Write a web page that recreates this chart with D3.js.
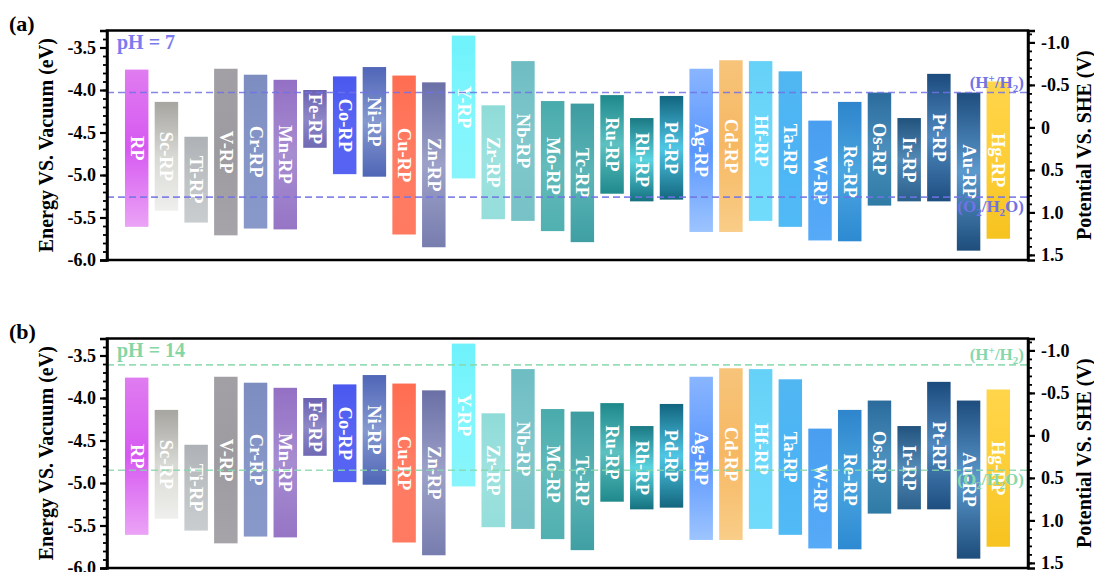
<!DOCTYPE html>
<html>
<head>
<meta charset="utf-8">
<script src="https://cdn.jsdelivr.net/npm/d3@7"></script>
<style>
  body { margin: 0; background: #fff; }
  svg { display: block; }
  text { font-family: "Liberation Serif", "Times New Roman", serif; font-weight: bold; }
</style>
</head>
<body>
<svg id="chart" width="1094" height="572"></svg>
<script>
// Band-edge positions of the RP-type structures (eV vs. vacuum)
const materials = ["RP", "Sc-RP", "Ti-RP", "V-RP", "Cr-RP", "Mn-RP", "Fe-RP", "Co-RP", "Ni-RP", "Cu-RP",
  "Zn-RP", "Y-RP", "Zr-RP", "Nb-RP", "Mo-RP", "Tc-RP", "Ru-RP", "Rh-RP", "Pd-RP", "Ag-RP",
  "Cd-RP", "Hf-RP", "Ta-RP", "W-RP", "Re-RP", "Os-RP", "Ir-RP", "Pt-RP", "Au-RP", "Hg-RP"];
const cbEdge = [-3.76, -4.14, -4.55, -3.75, -3.82, -3.88, -4.00, -3.84, -3.73, -3.83,
  -3.91, -3.36, -4.18, -3.66, -4.13, -4.16, -4.06, -4.33, -4.07, -3.75,
  -3.65, -3.66, -3.78, -4.36, -4.14, -4.03, -4.33, -3.81, -4.03, -3.90];
const vbEdge = [-5.61, -5.42, -5.56, -5.71, -5.63, -5.64, -4.68, -4.99, -5.02, -5.70,
  -5.85, -5.04, -5.52, -5.54, -5.66, -5.79, -5.22, -5.31, -5.29, -5.67,
  -5.67, -5.54, -5.61, -5.77, -5.78, -5.36, -5.31, -5.31, -5.89, -5.75];

// Panels and water redox levels (V vs. SHE)
const panelTags = ["(a)", "(b)"];
const pHLabels = ["pH = 7", "pH = 14"];
const hRedox = [-0.41, -0.83];
const oRedox = [0.82, 0.41];

// Axis ticks
const energyTicks = [-6.0, -5.5, -5.0, -4.5, -4.0, -3.5];
const potentialTicks = [-1.0, -0.5, 0, 0.5, 1.0, 1.5];
const energyDomain = [-6.0, -3.3];
const vacuumToSHE = -4.44;   // E(vac) = -4.44 - U(SHE)

// Bar gradients: top, middle, bottom
const barColors = [
  ["#e07cf0", "#d659f1", "#eba3f6"], ["#a6a5a0", "#d8d8d4", "#efefed"], ["#aeb2b6", "#bec2c5", "#c9cdd0"],
  ["#a29fa5", "#9d9aa0", "#a6a3a9"], ["#7d8dc0", "#8595c7", "#8898c9"], ["#9470c4", "#a68cd1", "#9675c5"],
  ["#6a62b0", "#8d87c7", "#7069b4"], ["#4a58ee", "#5865f4", "#5662f2"], ["#5066b8", "#8598d0", "#4f66b6"],
  ["#ff6d51", "#ff7c64", "#ff7a60"], ["#6a70a6", "#9da1c9", "#777dae"], ["#6ef2fb", "#80f6fd", "#88f4fb"],
  ["#8fdbd8", "#9ee2df", "#95dedb"], ["#6ebdc3", "#80c8cc", "#77c2c6"], ["#49abac", "#63bbba", "#51b0b0"],
  ["#3d9ca1", "#5bb5b7", "#3f9fa3"], ["#1e898b", "#5dc0c1", "#1f898b"], ["#1b7983", "#5ad4e0", "#15717f"],
  ["#11657f", "#50c6e4", "#13677e"], ["#8ab5ff", "#5a97fd", "#9dc4ff"], ["#f7c47a", "#f6b862", "#f9cd88"],
  ["#66d1f6", "#6cd8fa", "#71dbfb"], ["#50b7f2", "#4cb4f4", "#51bbf6"], ["#4a9ef0", "#4fa5f4", "#56aaf8"],
  ["#2e85cc", "#4ba6e0", "#2d8ad2"], ["#2a6b9c", "#4a8fbc", "#2f7ba6"], ["#21537d", "#5289b5", "#2a5f8a"],
  ["#1c4b7d", "#4f89bf", "#1e4e80"], ["#1e4d7e", "#5b99cd", "#1d4d7b"], ["#ffd54a", "#fdce38", "#f6c31f"]
];
const redoxColors = ["#7272e6", "#86d8aa"];
const pHColors = ["#7b7bef", "#84d6a4"];

const svg = d3.select("#chart");
const plotLeft = 107, plotRight = 1028, plotTop = 30.5, plotBottom = 260, panelShift = 308;

const x = d3.scalePoint().domain(materials).range([plotLeft, plotRight]).padding(1);
const barW = x.step() * 0.79;
const yE = d3.scaleLinear().domain(energyDomain).range([plotBottom, plotTop]);
const yU = d3.scaleLinear()
  .domain([vacuumToSHE - energyDomain[0], vacuumToSHE - energyDomain[1]])
  .range([plotBottom, plotTop]);

// gradients
const defs = svg.append("defs");
materials.forEach((m, i) => {
  const g = defs.append("linearGradient").attr("id", "bar" + i)
    .attr("x1", 0).attr("y1", 0).attr("x2", 0).attr("y2", 1);
  barColors[i].forEach((c, k) => g.append("stop").attr("offset", k / 2).attr("stop-color", c));
});

const rows = materials.map((m, i) => ({ name: m, cb: cbEdge[i], vb: vbEdge[i], i }));
const fmt1 = d => d.toFixed(1);
const fmtU = d => (d === 0 ? "0" : d.toFixed(1));

panelTags.forEach((tag, p) => {
  const g = svg.append("g").attr("transform", `translate(0,${p * panelShift})`);

  g.append("text").attr("x", 9).attr("y", 31).attr("font-size", 22).attr("fill", "#000").text(tag);

  // bars
  g.append("g").selectAll("rect").data(rows).join("rect")
    .attr("x", d => x(d.name) - barW / 2)
    .attr("y", d => yE(d.cb))
    .attr("width", barW)
    .attr("height", d => yE(d.vb) - yE(d.cb))
    .attr("fill", d => `url(#bar${d.i})`);

  // bar labels
  g.append("g").selectAll("text").data(rows).join("text")
    .attr("transform", d => `translate(${x(d.name)},${(yE(d.cb) + yE(d.vb)) / 2}) rotate(90)`)
    .attr("text-anchor", "middle").attr("dominant-baseline", "central")
    .attr("font-size", 18.5).attr("fill", "#fff")
    .text(d => d.name);

  // water redox levels
  const lines = [hRedox[p], oRedox[p]];
  g.append("g").selectAll("line").data(lines).join("line")
    .attr("x1", plotLeft).attr("x2", plotRight)
    .attr("y1", d => yU(d)).attr("y2", d => yU(d))
    .attr("stroke", redoxColors[p]).attr("stroke-width", 1.6)
    .attr("stroke-dasharray", "7,4").attr("opacity", 0.85);

  const hT = g.append("text").attr("x", plotRight - 4).attr("y", yU(hRedox[p]) - 5)
    .attr("text-anchor", "end").attr("font-size", 17).attr("fill", redoxColors[p]);
  hT.append("tspan").text("(H");
  hT.append("tspan").attr("font-size", 11).attr("dy", -6).text("+");
  hT.append("tspan").attr("dy", 6).text("/H");
  hT.append("tspan").attr("font-size", 11).attr("dy", 4).text("2");
  hT.append("tspan").attr("dy", -4).text(")");

  const oT = g.append("text").attr("x", plotRight - 4).attr("y", yU(oRedox[p]) + 15)
    .attr("text-anchor", "end").attr("font-size", 17).attr("fill", redoxColors[p]);
  oT.append("tspan").text("(O");
  oT.append("tspan").attr("font-size", 11).attr("dy", 4).text("2");
  oT.append("tspan").attr("dy", -4).text("/H");
  oT.append("tspan").attr("font-size", 11).attr("dy", 4).text("2");
  oT.append("tspan").attr("dy", -4).text("O)");

  g.append("text").attr("x", 117).attr("y", 49).attr("font-size", 20)
    .attr("fill", pHColors[p]).text(pHLabels[p]);

  // frame
  g.append("rect").attr("x", plotLeft).attr("y", plotTop)
    .attr("width", plotRight - plotLeft).attr("height", plotBottom - plotTop)
    .attr("fill", "none").attr("stroke", "#000").attr("stroke-width", 2.5);

  // left axis: energy vs vacuum
  const minorE = d3.range(-60, -32).map(v => v / 10);
  g.append("g").attr("transform", `translate(${plotLeft},0)`)
    .call(d3.axisLeft(yE).tickValues(minorE).tickSize(4).tickFormat(""))
    .call(a => a.select(".domain").remove())
    .call(a => a.selectAll("line").attr("stroke-width", 1.8));
  g.append("g").attr("transform", `translate(${plotLeft},0)`)
    .call(d3.axisLeft(yE).tickValues(energyTicks).tickSize(7).tickPadding(4).tickFormat(fmt1))
    .call(a => a.select(".domain").attr("stroke-width", 2.5))
    .call(a => a.selectAll("line").attr("stroke-width", 2.2))
    .call(a => a.selectAll("text").attr("font-size", 18).attr("fill", "#000")
      .attr("font-family", "Liberation Serif, serif").attr("font-weight", "bold"));

  // right axis: potential vs SHE
  const minorU = d3.range(-11, 16).map(v => v / 10);
  g.append("g").attr("transform", `translate(${plotRight},0)`)
    .call(d3.axisRight(yU).tickValues(minorU).tickSize(4).tickFormat(""))
    .call(a => a.select(".domain").remove())
    .call(a => a.selectAll("line").attr("stroke-width", 1.8));
  g.append("g").attr("transform", `translate(${plotRight},0)`)
    .call(d3.axisRight(yU).tickValues(potentialTicks).tickSize(7).tickPadding(6).tickFormat(fmtU))
    .call(a => a.select(".domain").attr("stroke-width", 2.5))
    .call(a => a.selectAll("line").attr("stroke-width", 2.2))
    .call(a => a.selectAll("text").attr("font-size", 18).attr("fill", "#000")
      .attr("font-family", "Liberation Serif, serif").attr("font-weight", "bold"));

  // axis titles
  g.append("text").attr("transform", `translate(46,${(plotTop + plotBottom) / 2}) rotate(-90)`)
    .attr("text-anchor", "middle").attr("dominant-baseline", "central")
    .attr("font-size", 20).attr("fill", "#000").text("Energy VS. Vacuum (eV)");
  g.append("text").attr("transform", `translate(1084,${(plotTop + plotBottom) / 2}) rotate(-90)`)
    .attr("text-anchor", "middle").attr("dominant-baseline", "central")
    .attr("font-size", 20).attr("fill", "#000").text("Potential VS. SHE (V)");
});
</script>
</body>
</html>
